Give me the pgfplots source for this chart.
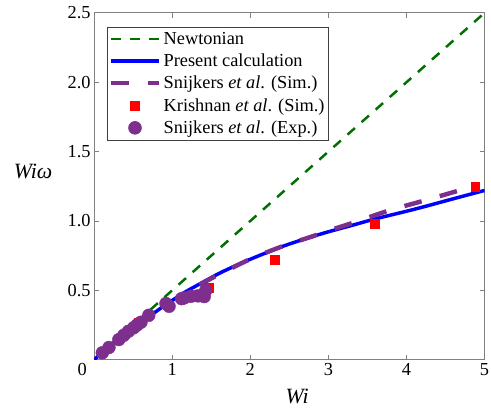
\documentclass[border=0pt]{standalone}
\usepackage{fontspec}
\setmainfont{Liberation Serif}
\newfontfamily\tickf{Liberation Serif}
\usepackage{pgfplots}
\pgfplotsset{compat=1.18}
\definecolor{newt}{RGB}{0,112,0}
\definecolor{snij}{RGB}{126,47,142}
\begin{document}
\begin{tikzpicture}
\begin{axis}[
  scale only axis,
  width=394pt, height=350pt,
  xmin=0, xmax=5, ymin=0, ymax=2.5,
  xtick={1,2,3,4,5},
  xticklabels={1,2,3,4,5},
  extra x ticks={0},
  extra x tick labels={0},
  extra x tick style={xticklabel style={xshift=-12pt}},
  ytick={0.5,1,1.5,2,2.5},
  yticklabels={0.5,1.0,1.5,2.0,2.5},
  xticklabel style={font=\tickf\fontsize{18.5}{20}\selectfont, text=black},
  yticklabel style={font=\tickf\fontsize{18.5}{20}\selectfont, text=black},
  tick align=inside,
  major tick length=5pt,
  tick style={gray, line width=0.8pt},
  axis line style={gray, line width=0.9pt},
  xlabel={\textit{Wi}},
  ylabel={\textit{Wiω}},
  every axis x label/.style={at={(axis description cs:0.52,0)}, anchor=north, yshift=-29pt, inner sep=0pt, font=\rmfamily\fontsize{22}{24}\selectfont},
  every axis y label/.style={at={(axis description cs:0,0.543)}, anchor=east, xshift=-42pt, inner sep=0pt, font=\rmfamily\fontsize{22}{24}\selectfont},
  legend style={at={(0.033,0.96)}, anchor=north west, draw=darkgray, line width=0.6pt,
    font=\rmfamily\fontsize{18.5}{20}\selectfont, row sep=4.2pt, inner xsep=1.5pt, inner ysep=3pt,
    nodes={inner xsep=2.5pt}},
  legend cell align=left,
  legend image code/.code={\draw[mark repeat=2,mark phase=2] plot coordinates {(0cm,0cm) (0.85cm,0cm) (1.7cm,0cm)};},
]
% Newtonian
\addplot[newt, line width=2.5pt, dash pattern=on 10pt off 9pt] coordinates {(0,0) (5,2.5)};
\addlegendentry{Newtonian}
% Present calculation
\addplot[blue, line width=3.5pt, smooth] coordinates {
(0,0) (0.1,0.05) (0.2,0.098) (0.3,0.145) (0.4,0.19) (0.5,0.232) (0.6,0.272) (0.7,0.31)
(0.8,0.35) (0.9,0.39) (1.0,0.427) (1.16,0.486) (1.3,0.53) (1.58,0.616) (1.8,0.675)
(2.0,0.724) (2.2,0.77) (2.43,0.82) (2.65,0.862) (2.85,0.897) (3.0,0.922) (3.3,0.968)
(3.6,1.015) (4.0,1.07) (4.24,1.105) (4.6,1.16) (5.0,1.22)};
\addlegendentry{Present calculation}
% Snijkers et al. (Sim.)
\addplot[snij, line width=4.5pt, dash pattern=on 18pt off 19pt, smooth] coordinates {
(1.35,0.54) (1.6,0.615) (2.0,0.725) (2.4,0.815) (2.8,0.89) (3.0,0.93) (3.31,0.986)
(3.78,1.076) (4.26,1.152) (4.73,1.229) (4.85,1.25)};
\addlegendentry{Snijkers \textit{et al}. (Sim.)}
% Krishnan et al. (Sim.)
\addplot[only marks, mark=square*, mark size=4.5pt, color=red] coordinates {
(0.57,0.27) (1.47,0.52) (2.31,0.72) (3.59,0.98) (4.88,1.25)};
\addlegendentry{Krishnan \textit{et al}. (Sim.)}
% Snijkers et al. (Exp.)
\addplot[only marks, mark=*, mark size=6.5pt, color=snij] coordinates {
(0.105,0.05) (0.19,0.088) (0.316,0.145) (0.38,0.176) (0.44,0.205) (0.506,0.23) (0.55,0.25)
(0.60,0.27) (0.70,0.32) (0.96,0.385) (0.92,0.405) (1.12,0.44) (1.15,0.445) (1.24,0.457)
(1.33,0.46) (1.41,0.455) (1.43,0.50)};
\addlegendentry{Snijkers \textit{et al}. (Exp.)}
\end{axis}
\pgfresetboundingbox
\path (current axis.south west) ++(-95pt,-54pt) rectangle ([shift={(6.5pt,13pt)}]current axis.north east);
\end{tikzpicture}
\end{document}
